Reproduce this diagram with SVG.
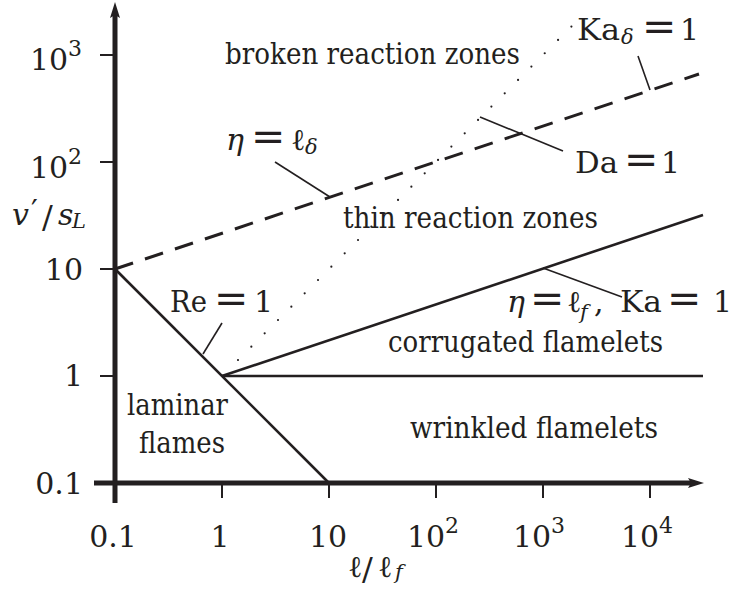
<svg xmlns="http://www.w3.org/2000/svg" width="735" height="590" viewBox="0 0 735 590">
<style>
  text { font-family: "DejaVu Serif", serif; font-size: 30px; fill: #231f20; }
  .it { font-style: italic; }
  .sup { font-size: 22px; }
  .sub { font-size: 21px; }
  .eq { font-size: 41px; }
  .reg { font-size: 29px; }
  .axis { stroke: #231f20; stroke-width: 5; fill: none; }
  .tick { stroke: #231f20; stroke-width: 2; }
  .bound { stroke: #231f20; stroke-width: 2.6; fill: none; }
  .dash { stroke: #231f20; stroke-width: 3; fill: none; stroke-dasharray: 19 12.6; }
  .dot { stroke: #231f20; stroke-width: 2.2; fill: none; stroke-dasharray: 0 18.86; stroke-linecap: round; }
  .lead { stroke: #231f20; stroke-width: 1.6; fill: none; }
  .head { fill: #231f20; }
</style>

<g id="axes">
  <line class="axis" x1="115" y1="503" x2="115" y2="14"/>
  <polygon class="head" points="115,2 120,18 115,15 110,18"/>
  <line class="axis" x1="94" y1="483" x2="692" y2="483"/>
  <polygon class="head" points="704,483 688,478 691,483 688,488"/>
  <g id="yticks">
    <line class="tick" x1="100" y1="55" x2="115" y2="55"/>
    <line class="tick" x1="100" y1="162" x2="115" y2="162"/>
    <line class="tick" x1="100" y1="269" x2="115" y2="269"/>
    <line class="tick" x1="100" y1="376" x2="115" y2="376"/>
    <line class="tick" x1="100" y1="483" x2="115" y2="483"/>
  </g>
  <g id="xticks">
    <line class="tick" x1="222" y1="483" x2="222" y2="498"/>
    <line class="tick" x1="329" y1="483" x2="329" y2="498"/>
    <line class="tick" x1="436" y1="483" x2="436" y2="498"/>
    <line class="tick" x1="543" y1="483" x2="543" y2="498"/>
    <line class="tick" x1="650" y1="483" x2="650" y2="498"/>
  </g>
</g>

<g id="tick-labels">
  <text x="30" y="70">10<tspan class="sup" x="68" y="56">3</tspan></text>
  <text x="30" y="178">10<tspan class="sup" x="68" y="164">2</tspan></text>
  <text x="83" y="280" text-anchor="end">10</text>
  <text x="83" y="386" text-anchor="end">1</text>
  <text x="83" y="494" text-anchor="end">0.1</text>
  <text x="113" y="547" text-anchor="middle">0.1</text>
  <text x="220" y="547" text-anchor="middle">1</text>
  <text x="328" y="547" text-anchor="middle">10</text>
  <text x="407" y="547">10<tspan class="sup" x="445" y="533">2</tspan></text>
  <text x="513" y="547">10<tspan class="sup" x="551" y="533">3</tspan></text>
  <text x="621" y="547">10<tspan class="sup" x="659" y="533">4</tspan></text>
</g>

<g id="axis-labels">
  <text y="225"><tspan class="it" x="12">v</tspan><tspan x="31" y="221">′</tspan><tspan x="42" y="228" font-size="32">/</tspan><tspan class="it" x="58" y="225">s</tspan><tspan class="it sub" x="72" y="228">L</tspan></text>
  <text y="577"><tspan x="348">ℓ</tspan><tspan x="362" y="580" font-size="32">/</tspan><tspan x="378" y="577">ℓ</tspan><tspan class="it sub" x="395" y="579">f</tspan></text>
</g>

<g id="connectors">
  <line id="eta-ldelta" class="dash" x1="115" y1="269" x2="699" y2="74"/>
  <line id="da1" class="dot" x1="238" y1="360" x2="572" y2="26"/>
  <line id="re1" class="bound" x1="115" y1="269" x2="329" y2="483"/>
  <line id="ka1" class="bound" x1="222" y1="376" x2="703" y2="215"/>
  <line id="v1" class="bound" x1="222" y1="376" x2="703" y2="376"/>
  <line class="lead" x1="275" y1="162" x2="330" y2="197"/>
  <line class="lead" x1="638" y1="56" x2="650" y2="90"/>
  <line class="lead" x1="480" y1="117" x2="563" y2="151"/>
  <line class="lead" x1="222" y1="323" x2="203" y2="354"/>
  <line class="lead" x1="543" y1="268" x2="622" y2="297"/>
</g>

<g id="region-labels">
  <text id="broken" class="reg" x="225" y="64" textLength="295" lengthAdjust="spacingAndGlyphs">broken reaction zones</text>
  <text id="thin" class="reg" x="343" y="228" textLength="255" lengthAdjust="spacingAndGlyphs">thin reaction zones</text>
  <text id="corrugated" class="reg" x="388" y="352" textLength="275" lengthAdjust="spacingAndGlyphs">corrugated flamelets</text>
  <text id="wrinkled" class="reg" x="410" y="438" textLength="248" lengthAdjust="spacingAndGlyphs">wrinkled flamelets</text>
  <text id="laminar" class="reg" x="127" y="415" textLength="101" lengthAdjust="spacingAndGlyphs">laminar</text>
  <text id="flames" class="reg" x="139" y="453" textLength="86" lengthAdjust="spacingAndGlyphs">flames</text>
</g>

<g id="line-labels">
  <g id="lbl-eta-ldelta">
    <text y="150"><tspan class="it" x="226">η</tspan><tspan class="eq" x="251">=</tspan><tspan x="291" y="150">ℓ</tspan><tspan class="it sub" x="305" y="154">δ</tspan></text>
  </g>
  <g id="lbl-kadelta">
    <text x="577" y="40" textLength="43" lengthAdjust="spacingAndGlyphs">Ka</text>
    <text class="it sub" x="621" y="44">δ</text>
    <text class="eq" x="642" y="40">=</text>
    <text x="680" y="40">1</text>
  </g>
  <g id="lbl-da">
    <text x="575" y="173" textLength="43" lengthAdjust="spacingAndGlyphs">Da</text>
    <text class="eq" x="624" y="173">=</text>
    <text x="661" y="173">1</text>
  </g>
  <g id="lbl-re">
    <text x="170" y="312" textLength="37" lengthAdjust="spacingAndGlyphs">Re</text>
    <text class="eq" x="214" y="312">=</text>
    <text x="254" y="312">1</text>
  </g>
  <g id="lbl-eta-lf-ka">
    <text y="312"><tspan class="it" x="507">η</tspan><tspan class="eq" x="530">=</tspan><tspan x="567">ℓ</tspan><tspan class="it sub" x="580" y="319">f</tspan><tspan x="594" y="312">,</tspan></text>
    <text x="620" y="312" textLength="42" lengthAdjust="spacingAndGlyphs">Ka</text>
    <text class="eq" x="667" y="312">=</text>
    <text x="713" y="312">1</text>
  </g>
</g>
</svg>
